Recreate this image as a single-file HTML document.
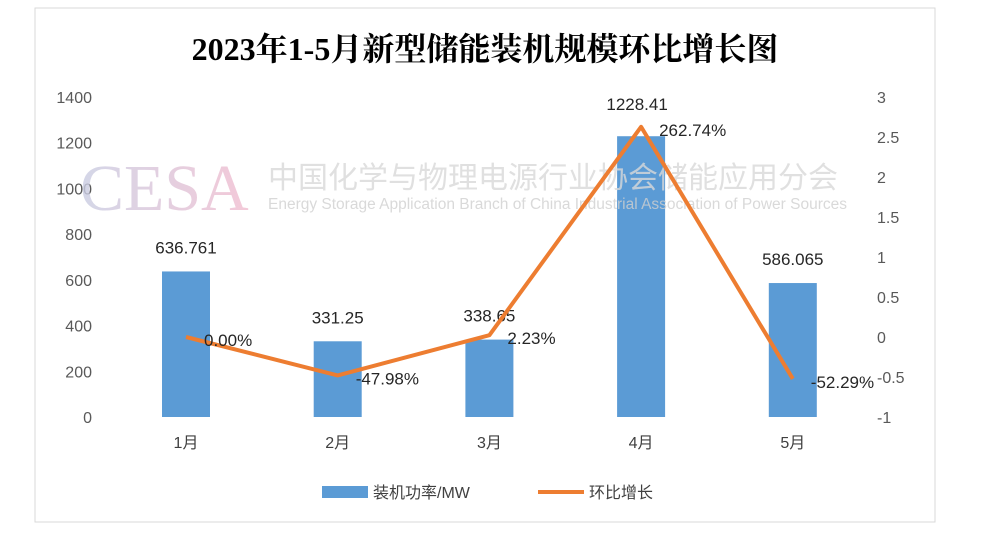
<!DOCTYPE html>
<html><head><meta charset="utf-8"><style>
body{margin:0;background:#fff;width:994px;height:535px;overflow:hidden}
svg text{font-family:"Liberation Sans","Noto Sans CJK SC",sans-serif}
</style></head><body>
<svg id="chart" width="994" height="535">
<defs><linearGradient id="wg" x1="0" x2="1"><stop offset="0" stop-color="#c9cde3"/><stop offset="1" stop-color="#f1bccf"/></linearGradient></defs>
<rect x="35" y="8" width="900" height="514" fill="#fff" stroke="#d9d9d9"/>
<text x="485" y="60" text-anchor="middle" font-size="32" font-weight="bold" fill="#000" style="font-family:'Liberation Serif','Noto Serif CJK SC',serif">2023年1-5月新型储能装机规模环比增长图</text>
<g id="yl"></g>
<g id="yr"></g>
<g id="bars"></g>
<g opacity="0.8">
<text x="80" y="210" font-size="66" fill="url(#wg)" style="font-family:'Liberation Serif',serif">CESA</text>
<text x="268" y="188" font-size="30" fill="#d9d9d9" style="font-family:'Liberation Sans','Noto Sans CJK SC',sans-serif">中国化学与物理电源行业协会储能应用分会</text>
<text x="268" y="209" font-size="15.5" fill="#d0d0d0">Energy Storage Application Branch of China Industrial Association of Power Sources</text>
</g>
<g id="line"></g>
<g id="xl"></g>
<g>
<g><rect x="322" y="486" width="46" height="12" fill="#5b9bd5"/><text x="373" y="498" font-size="16" fill="#404040">装机功率/MW</text></g>
<g><line x1="538" y1="492" x2="584" y2="492" stroke="#ed7d31" stroke-width="4"/><text x="589" y="498" font-size="16" fill="#404040">环比增长</text></g>
</g>
</svg>
<script>
const categories=["1月","2月","3月","4月","5月"];
const capacity=[636.761,331.25,338.65,1228.41,586.065];
const capacityLabels=["636.761","331.25","338.65","1228.41","586.065"];
const growth=[0,-47.98,2.23,262.74,-52.29];
const growthLabels=["0.00%","-47.98%","2.23%","262.74%","-52.29%"];
const leftTicks=[0,200,400,600,800,1000,1200,1400];
const rightTicks=[-1,-0.5,0,0.5,1,1.5,2,2.5,3];
const NS="http://www.w3.org/2000/svg";
const yL=v=>417-v/1400*320;
const yR=v=>337-v*80;
const xC=i=>186+i*151.7;
function mk(t,a,p,txt){const e=document.createElementNS(NS,t);for(const k in a)e.setAttribute(k,a[k]);if(txt!=null)e.textContent=txt;p.appendChild(e);return e;}
const gL=document.getElementById('yl'),gR=document.getElementById('yr'),gB=document.getElementById('bars'),gLn=document.getElementById('line'),gX=document.getElementById('xl');
leftTicks.forEach(v=>{const t=mk('text',{x:92,y:yL(v)+6,'text-anchor':'end','font-size':16,fill:'#595959'},gL,String(v));

});
rightTicks.forEach(v=>{const t=mk('text',{x:877,y:yR(v)+6,'font-size':16,fill:'#595959'},gR,String(v));

});
categories.forEach((c,i)=>{
const r=mk('rect',{x:xC(i)-24,y:yL(capacity[i]),width:48,height:417-yL(capacity[i]),fill:'#5b9bd5'},gB);


const bl=mk('text',{x:xC(i)+(i==3?-4:0),y:yL(capacity[i])-(i==3?26:18),'text-anchor':'middle','font-size':17,fill:'#262626'},gB,capacityLabels[i]);


const xt=mk('text',{x:xC(i),y:448,'text-anchor':'middle','font-size':16,fill:'#404040'},gX,c);


});
const pts=growth.map((g,i)=>xC(i)+','+yR(g/100)).join(' ');
const pl=mk('polyline',{points:pts,fill:'none',stroke:'#ed7d31','stroke-width':4,'stroke-linejoin':'round'},gLn);


growth.forEach((g,i)=>{const t=mk('text',{x:xC(i)+18,y:yR(g/100)+9,'font-size':17,fill:'#262626'},gLn,growthLabels[i]);

});
</script>
</body></html>
